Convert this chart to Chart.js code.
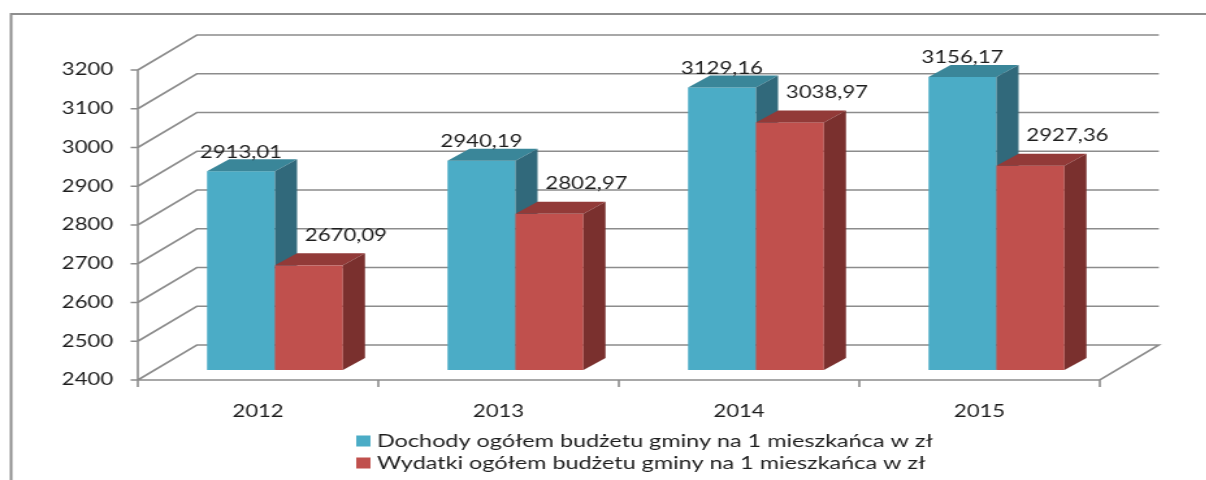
<!DOCTYPE html>
<html lang="pl">
<head>
    <meta charset="UTF-8">
    <title>Dochody i wydatki budżetu gminy na 1 mieszkańca</title>
    <script src="https://cdn.jsdelivr.net/npm/chart.js"></script>
    <style>
        html, body { margin: 0; padding: 0; background: #fff; overflow: hidden; }
        /* the source picture is stretched sideways, so the whole chart is too */
        #wrap { width: 928px; height: 480px; transform: scaleX(1.3); transform-origin: 0 0; }
    </style>
</head>
<body>
    <div id="wrap"><canvas id="chart"></canvas></div>

    <script>
        const years = ['2012', '2013', '2014', '2015'];
        const dochody = [2913.01, 2940.19, 3129.16, 3156.17];
        const wydatki = [2670.09, 2802.97, 3038.97, 2927.36];
        const seriesNames = [
            'Dochody ogółem budżetu gminy na 1 mieszkańca w zł',
            'Wydatki ogółem budżetu gminy na 1 mieszkańca w zł'
        ];
        const yMin = 2400;
        const yMax = 3200;
        const yStep = 100;

        const colors = [
            { front: '#4bacc6', top: '#3a8699', side: '#31697b' },
            { front: '#c0504d', top: '#923a38', side: '#7a302e' }
        ];
        const gridColor = '#8c8c8c';
        const textColor = '#1e1e1e';
        const font = { family: 'Lato', size: 17 };

        // 3d look: back wall, bar front plane and bar depth
        const WALL = { x: 45.4, y: -35 };
        const FRONT = { x: 13, y: -10 };
        const DEPTH = { x: 17, y: -12 };
        const labelShift = [{ x: 0, y: -7 }, { x: 28.5, y: -18 }];

        function fmt(v) {
            return v.toFixed(2).replace('.', ',');
        }

        const bars3d = {
            id: 'bars3d',
            beforeDraw(chart) {
                const ctx = chart.ctx;
                const xs = chart.scales.x;
                const ys = chart.scales.y;
                const L = xs.left, R = xs.right, B = ys.bottom;

                ctx.save();
                ctx.strokeStyle = '#8e8e8e';
                ctx.lineWidth = 2;
                ctx.strokeRect(8.5, 14, chart.width + 20, chart.height + 20);

                ctx.strokeStyle = gridColor;
                ctx.lineWidth = 1.6;
                ctx.beginPath();
                ys.ticks.forEach(t => {
                    const py = ys.getPixelForValue(t.value);
                    if (t.value === yMin) return;
                    ctx.moveTo(L, py);
                    ctx.lineTo(L + WALL.x, py + WALL.y);
                    ctx.lineTo(R + WALL.x, py + WALL.y);
                    // small tick on the front axis
                    ctx.moveTo(L - 5.5, py);
                    ctx.lineTo(L, py);
                });
                // floor
                ctx.moveTo(L, B);
                ctx.lineTo(L + WALL.x, B + WALL.y);
                ctx.lineTo(R + WALL.x, B + WALL.y);
                ctx.lineTo(R, B);
                ctx.lineTo(L, B);
                ctx.moveTo(L - 5.5, B);
                ctx.lineTo(L, B);
                // front value axis
                ctx.moveTo(L, ys.top);
                ctx.lineTo(L, B);
                // category ticks
                for (let i = 0; i <= years.length; i++) {
                    const px = xs.getPixelForValue(i - 0.5);
                    ctx.moveTo(px, B);
                    ctx.lineTo(px, B + 7);
                }
                ctx.stroke();
                ctx.restore();
            },
            beforeDatasetsDraw(chart) {
                const ctx = chart.ctx;
                const ys = chart.scales.y;
                ctx.save();
                chart.data.datasets.forEach((ds, d) => {
                    const c = colors[d];
                    chart.getDatasetMeta(d).data.forEach(bar => {
                        const p = bar.getProps(['x', 'y', 'width'], true);
                        const l = p.x - p.width / 2 + FRONT.x;
                        const r = p.x + p.width / 2 + FRONT.x;
                        const t = p.y + FRONT.y;
                        const b = ys.getPixelForValue(yMin) + FRONT.y;

                        ctx.fillStyle = c.front;
                        ctx.fillRect(l, t, r - l, b - t);

                        ctx.fillStyle = c.top;
                        ctx.beginPath();
                        ctx.moveTo(l, t);
                        ctx.lineTo(l + DEPTH.x, t + DEPTH.y);
                        ctx.lineTo(r + DEPTH.x, t + DEPTH.y);
                        ctx.lineTo(r, t);
                        ctx.closePath();
                        ctx.fill();

                        ctx.fillStyle = c.side;
                        ctx.beginPath();
                        ctx.moveTo(r, t);
                        ctx.lineTo(r + DEPTH.x, t + DEPTH.y);
                        ctx.lineTo(r + DEPTH.x, b + DEPTH.y);
                        ctx.lineTo(r, b);
                        ctx.closePath();
                        ctx.fill();
                    });
                });

                ctx.font = font.size + 'px ' + font.family;
                ctx.fillStyle = textColor;
                ctx.textAlign = 'center';
                ctx.textBaseline = 'middle';
                chart.data.datasets.forEach((ds, d) => {
                    chart.getDatasetMeta(d).data.forEach((bar, i) => {
                        const p = bar.getProps(['x', 'y'], true);
                        const lx = p.x + FRONT.x + labelShift[d].x;
                        const ly = p.y + FRONT.y + DEPTH.y + labelShift[d].y;
                        ctx.fillText(fmt(ds.data[i]), lx, ly);
                    });
                });
                ctx.restore();
                return false;
            },
            afterDraw(chart) {
                const ctx = chart.ctx;
                ctx.save();
                ctx.font = '18px ' + font.family;
                ctx.textBaseline = 'middle';
                ctx.textAlign = 'left';
                chart.data.datasets.forEach((ds, d) => {
                    const y = 441 + d * 22;
                    ctx.fillStyle = colors[d].front;
                    ctx.fillRect(274, y - 5.5, 11, 11);
                    ctx.fillStyle = textColor;
                    ctx.fillText(ds.label, 290, y);
                });
                ctx.restore();
            }
        };

        const chart = new Chart(document.getElementById('chart'), {
            type: 'bar',
            data: {
                labels: years,
                datasets: [
                    { label: seriesNames[0], data: dochody, backgroundColor: colors[0].front },
                    { label: seriesNames[1], data: wydatki, backgroundColor: colors[1].front }
                ]
            },
            options: {
                responsive: true,
                maintainAspectRatio: false,
                animation: false,
                layout: { padding: { top: 70, right: 82, bottom: 0, left: 0 } },
                datasets: { bar: { categoryPercentage: 0.565, barPercentage: 1 } },
                plugins: {
                    legend: { display: false },
                    tooltip: { enabled: false }
                },
                scales: {
                    x: {
                        grid: { display: false, drawTicks: false },
                        border: { display: false },
                        ticks: { padding: 21, color: textColor, font: font },
                        afterFit: s => { s.height = 100; }
                    },
                    y: {
                        min: yMin,
                        max: yMax,
                        grid: { display: false, drawTicks: false },
                        border: { display: false },
                        ticks: {
                            stepSize: yStep,
                            padding: 19,
                            color: textColor,
                            font: font,
                            callback: v => String(v)
                        },
                        afterFit: s => { s.width = 106; }
                    }
                }
            },
            plugins: [bars3d]
        });
    </script>
</body>
</html>
